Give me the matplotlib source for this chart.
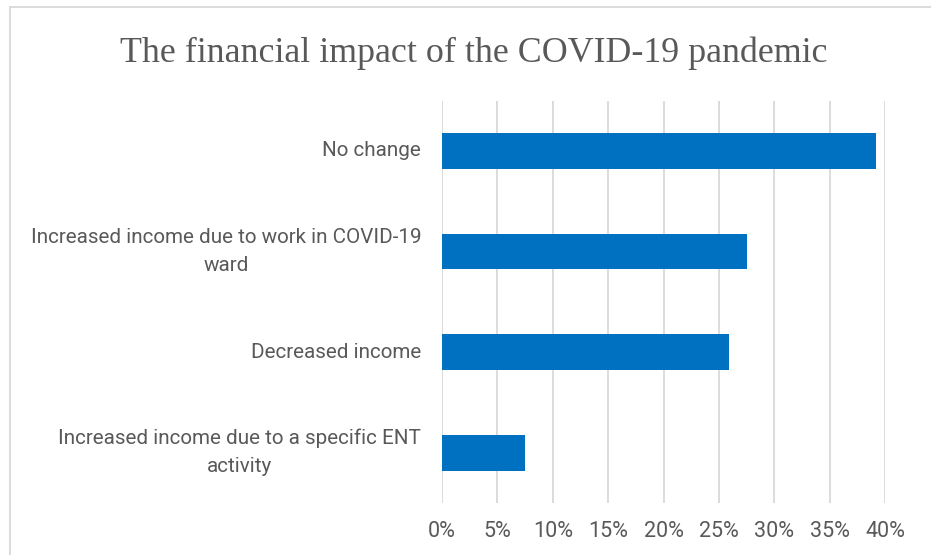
import matplotlib
matplotlib.use("Agg")
import matplotlib.pyplot as plt
from matplotlib.lines import Line2D
from matplotlib.ticker import FuncFormatter, MultipleLocator

categories = [
    "No change",
    "Increased income due to work in COVID-19\nward",
    "Decreased income",
    "Increased income due to a specific ENT\nactivity",
]
values = [39.2, 27.5, 25.9, 7.5]
title = "The financial impact of the COVID-19 pandemic"

W, H = 931, 555
fig = plt.figure(figsize=(W / 100, H / 100), dpi=100)
fig.patch.set_facecolor("white")

ax = fig.add_axes([442 / W, 1 - 503 / H, (885 - 442) / W, (503 - 100.7) / H])

ypos = list(range(len(categories)))
ax.barh(ypos, values, height=0.355, color="#0070C0", zorder=3)
ax.set_ylim(len(categories) - 0.5, -0.5)
ax.set_xlim(0, 40)
ax.xaxis.set_major_locator(MultipleLocator(5))
ax.xaxis.set_major_formatter(FuncFormatter(lambda v, p: f"{v:.0f}%"))

ax.set_yticks(ypos)
ax.set_yticklabels(categories, fontfamily="Roboto", fontsize=14.9, color="#595959",
                   multialignment="center", linespacing=1.6, va="center")
for lbl in ax.get_xticklabels():
    lbl.set_fontfamily("Roboto")
    lbl.set_fontsize(15.5)
    lbl.set_color("#595959")

ax.tick_params(axis="y", length=0, pad=15)
ax.tick_params(axis="x", length=0, pad=13)
ax.grid(axis="x", color="#D9D9D9", linewidth=1.3, zorder=0)
for side in ("top", "right", "bottom", "left"):
    ax.spines[side].set_visible(False)

fig.text(474 / W, 1 - 62 / H, title, ha="center", va="baseline",
         fontfamily="Liberation Serif", fontsize=25.8, color="#595959")

# outer chart frame
fig.add_artist(Line2D([10 / W, 10 / W], [0, 1 - 7 / H], transform=fig.transFigure,
                      color="#D9D9D9", linewidth=1.3))
fig.add_artist(Line2D([10 / W, 1], [1 - 7 / H, 1 - 7 / H], transform=fig.transFigure,
                      color="#D9D9D9", linewidth=1.3))

fig.savefig("out.png", dpi=100)
